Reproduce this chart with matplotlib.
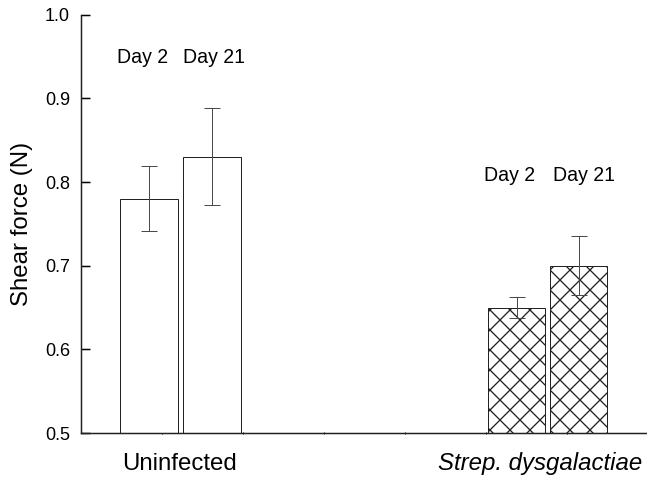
import matplotlib
matplotlib.use("Agg")
import matplotlib.pyplot as plt

# ---- data ----
groups = ["Uninfected", "Strep. dysgalactiae"]
days = ["Day 2", "Day 21"]
means_uninfected = [0.78, 0.83]
err_uninfected = [0.039, 0.058]
means_strep = [0.65, 0.70]
err_strep = [0.013, 0.035]
yticks = [0.5, 0.6, 0.7, 0.8, 0.9, 1.0]

# ---- layout ----
plt.rcParams['font.family'] = ['Liberation Sans', 'DejaVu Sans']
DPI = 60
P = 72 / DPI  # pixels -> points
plt.rcParams['hatch.linewidth'] = 1.3 * P
fig = plt.figure(figsize=(647 / DPI, 482 / DPI), dpi=DPI)
ax = fig.add_axes([81 / 647, 49 / 482, 566 / 647, (433 - 14.7) / 482])

pos_u = [0.84, 1.617]
pos_s = [5.377, 6.142]
width = 0.705

ax.bar(pos_u, means_uninfected, width=width, bottom=0, color='white',
       edgecolor='#222222', linewidth=1.0 * P, zorder=2)
ax.bar(pos_s, means_strep, width=width, bottom=0, color='white',
       edgecolor='#222222', linewidth=1.0 * P, hatch='x', zorder=2)
ax.errorbar(pos_u, means_uninfected, yerr=err_uninfected, fmt='none',
            ecolor='#4a4a4a', elinewidth=1.0 * P, capsize=8 * P, capthick=1.0 * P, zorder=3)
ax.errorbar(pos_s, means_strep, yerr=err_strep, fmt='none',
            ecolor='#4a4a4a', elinewidth=1.0 * P, capsize=8 * P, capthick=1.0 * P, zorder=3)

# day labels
fs_day = 19.5 * P
ax.text(0.76, 0.949, days[0], ha='center', va='center', fontsize=fs_day)
ax.text(1.636, 0.949, days[1], ha='center', va='center', fontsize=fs_day)
ax.text(5.29, 0.808, days[0], ha='center', va='center', fontsize=fs_day)
ax.text(6.216, 0.808, days[1], ha='center', va='center', fontsize=fs_day)

# group labels
ax.text(1.21, 0.463, groups[0], ha='center', va='center', fontsize=24 * P, clip_on=False)
ax.text(5.667, 0.463, groups[1], ha='center', va='center', fontsize=24 * P,
        style='italic', clip_on=False)

ax.set_xlim(0, 566 / 81)
ax.set_ylim(0.5, 1.0)
ax.set_yticks(yticks)
ax.set_yticklabels([f"{v:.1f}" for v in yticks])
ax.tick_params(axis='y', direction='in', length=9 * P, width=1.5 * P,
               labelsize=18 * P, pad=11 * P)
ax.set_xticks([1, 2, 3, 4, 5, 6])
ax.set_xticklabels([])
ax.tick_params(axis='x', direction='inout', length=3 * P, width=1.0 * P)
ax.set_ylabel("Shear force (N)", fontsize=24 * P, labelpad=12 * P)

for s in ['top', 'right']:
    ax.spines[s].set_visible(False)
ax.spines['left'].set_linewidth(1.5 * P)
ax.spines['bottom'].set_linewidth(1.5 * P)
ax.spines['left'].set_color('#222222')
ax.spines['bottom'].set_color('#222222')

fig.savefig("out.png", dpi=DPI)
